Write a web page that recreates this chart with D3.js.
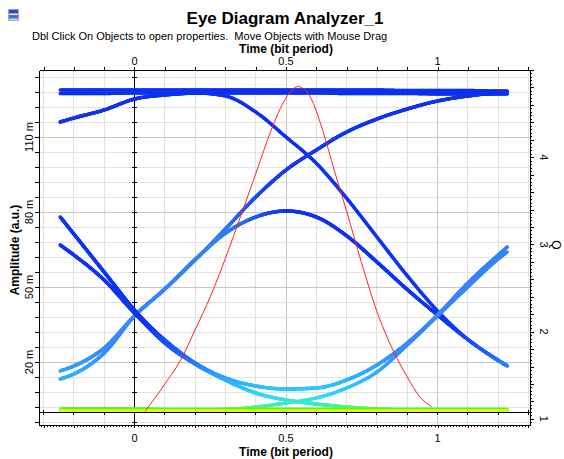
<!DOCTYPE html>
<html>
<head>
<meta charset="utf-8">
<script src="https://cdn.jsdelivr.net/npm/d3@7"></script>
<style>
  body { margin: 0; background: #fff; }
  svg { display: block; font-family: "Liberation Sans", Arial, sans-serif; }
</style>
</head>
<body>
<svg id="chart" width="564" height="459"></svg>
<script>
// ---- data -------------------------------------------------------------
// sampling instants of the eye traces (bit periods)
const sampleTimes = [-0.245, -0.2, -0.1, 0, 0.1, 0.2, 0.3, 0.4, 0.5, 0.6, 0.7, 0.8, 0.9, 1.0, 1.1, 1.2, 1.23];

// amplitude traces, milli a.u., one value per sampling instant
const highFlatA   = [128.8, 128.8, 128.8, 128.8, 128.8, 128.8, 128.8, 128.8, 128.8, 128.8, 128.8, 128.8, 128.6, 128.6, 128.6, 128.4, 128.4];
const highFlatB   = [127.4, 127.4, 127.4, 127.6, 127.6, 127.6, 127.6, 127.6, 127.6, 127.6, 127.4, 127.4, 127.4, 127.2, 127.2, 127.2, 127.2];
const tailHigh    = [116, 117.6, 120.8, 125.2, 126.8, 127.6, 128, 128, 128, 128, 128, 128, 128, 128, 128, 128, 128];
const tailFall    = [116, 117.6, 120.8, 125.2, 126.8, 127.6, 126.4, 120, 110, 99.5, 85.5, 70, 54.5, 40.4, 29, 20.8, 18.6];
const riseHighA   = [16.4, 18.4, 25.6, 38.4, 49.2, 60.8, 73.2, 86, 96.8, 104.8, 112, 117.2, 121.2, 124.4, 126.4, 127.6, 127.8];
const riseHighB   = [13.2, 15.2, 23.6, 38.4, 49.2, 60.8, 73.2, 86, 96.8, 104.8, 112, 117.2, 121.2, 124.4, 126.4, 127.6, 127.8];
const pulseA      = [13.2, 15.2, 23.6, 38.4, 49.2, 61, 71.5, 78, 80.4, 78, 70.5, 60, 49, 38.8, 29, 20.6, 18.4];
const pulseB      = [16.4, 18.4, 25.6, 38.4, 49.2, 61, 71.5, 78, 80.4, 78, 70.5, 60, 49, 38.8, 29, 20.6, 18.4];
const dipA        = [78, 71.2, 56, 40.8, 28.8, 19.6, 13.6, 10.4, 9.2, 9.6, 12.8, 18.8, 27.6, 38.8, 51.6, 62.8, 66];
const dipB        = [66.8, 62.8, 52.8, 39.6, 28.8, 19.6, 13.6, 10.4, 9.2, 9.6, 12.8, 18.8, 27.6, 38.8, 51.6, 62.8, 66];
const fallLowA    = [66.8, 62.8, 52.8, 39.6, 27.6, 19.2, 12.8, 7.6, 4.8, 3.2, 2, 1.2, 0.8, 0.8, 0.8, 0.8, 0.8];
const fallLowB    = [78, 71.2, 56, 40.8, 27.6, 19.2, 12.8, 7.6, 4.8, 3.2, 2, 1.2, 0.8, 0.8, 0.8, 0.8, 0.8];
const lowRise     = [0.8, 0.8, 0.8, 0.8, 0.8, 0.8, 1, 2, 3.6, 5.6, 9.6, 16, 26.8, 38.4, 50, 61.2, 64];
const lowFlatA    = [1.6, 1.6, 1.6, 1.6, 1.4, 1.4, 1.4, 1.4, 1.4, 1.4, 1.4, 1.4, 1.4, 1.4, 1.4, 1.4, 1.4];
const lowFlatB    = [0.6, 0.6, 0.6, 0.6, 0.6, 0.6, 0.6, 0.6, 0.6, 0.6, 0.6, 0.6, 0.6, 0.6, 0.6, 0.6, 0.6];

// Q factor against sampling time
const qTimes  = [0.035, 0.07, 0.1, 0.15, 0.2, 0.25, 0.3, 0.35, 0.4, 0.45, 0.5, 0.54, 0.58, 0.62, 0.66, 0.7, 0.75, 0.8, 0.85, 0.9, 0.94, 0.98];
const qValues = [1.09, 1.25, 1.40, 1.66, 2.02, 2.40, 2.84, 3.32, 3.81, 4.30, 4.68, 4.81, 4.69, 4.32, 3.84, 3.38, 2.78, 2.23, 1.81, 1.48, 1.26, 1.14];

// axis labels
const timeTickLabels = [0, 0.5, 1];
const ampTickLabels  = [20, 50, 80, 110];
const qTickLabels    = [1, 2, 3, 4];

// ---- layout -------------------------------------------------------------
const svg = d3.select("#chart");
const L = 39, R = 530, T = 70, B = 425;

const x = d3.scaleLinear().domain([-0.315, 1.305]).range([L, R]);
const y = d3.scaleLinear().domain([-5.2, 136.8]).range([B, T]);
const q = d3.scaleLinear().domain([0.93, 5.0]).range([B, T]);

const timeGrid = d3.range(-3, 14).map(i => i / 10);
const ampGrid  = d3.range(0, 24).map(k => -4 + 6 * k);

// grid
const grid = svg.append("g").attr("shape-rendering", "crispEdges");
grid.selectAll(".vg").data(timeGrid).join("line")
  .attr("x1", d => x(d)).attr("x2", d => x(d)).attr("y1", T).attr("y2", B)
  .attr("stroke", d => (Math.abs(d - 0.5) < 1e-6 || Math.abs(d - 1) < 1e-6) ? "#c6c6c6" : "#e2e2e2");
grid.selectAll(".hg").data(ampGrid).join("line")
  .attr("x1", L).attr("x2", R).attr("y1", d => y(d)).attr("y2", d => y(d))
  .attr("stroke", d => ampTickLabels.includes(d) ? "#c6c6c6" : "#e2e2e2");

// origin lines with their own ticks
const origin = svg.append("g").attr("shape-rendering", "crispEdges").attr("stroke", "#000");
origin.append("line").attr("x1", x(0)).attr("x2", x(0)).attr("y1", T).attr("y2", B);
origin.append("line").attr("x1", L).attr("x2", R).attr("y1", y(0)).attr("y2", y(0));
origin.selectAll(".ot").data(ampGrid.filter(d => d > -5)).join("line")
  .attr("x1", x(0) - 2).attr("x2", x(0) + 3).attr("y1", d => y(d)).attr("y2", d => y(d));
origin.selectAll(".oh").data(timeGrid).join("line")
  .attr("x1", d => x(d)).attr("x2", d => x(d)).attr("y1", y(0) - 2).attr("y2", y(0) + 3);

// ---- eye traces ---------------------------------------------------------
const fallPalette = d3.scaleLinear()
  .domain([0, 1.2, 3, 7, 14, 24, 34, 137])
  .range(["#e0ff00", "#5cff44", "#38f0b4", "#2cd6ff", "#2aa2ff", "#1c5cff", "#0f34f4", "#0c30f0"]);
const risePalette = d3.scaleLinear()
  .domain([0, 1.2, 3, 7, 14, 24, 70, 90, 137])
  .range(["#e0ff00", "#5cff44", "#38f0b4", "#2cd6ff", "#30b4ff", "#3a8aff", "#3380f8", "#163ef2", "#0c30f0"]);

const traceGroup = svg.append("g");
const lineGen = d3.line().curve(d3.curveMonotoneX);

function drawTrace(values, width) {
  const pts = sampleTimes.map((t, i) => [x(t), y(values[i])]);
  const tmp = svg.append("path").attr("d", lineGen(pts)).attr("fill", "none");
  const node = tmp.node();
  const len = node.getTotalLength();
  const n = Math.ceil(len / 2);
  let prev = node.getPointAtLength(0);
  for (let i = 1; i <= n; i++) {
    const p = node.getPointAtLength(len * i / n);
    const dx = Math.max(p.x - prev.x, 0.01);
    const slope = (p.y - prev.y) / dx;
    const k = Math.max(0, Math.min(1, -slope * 2));
    const v = y.invert((p.y + prev.y) / 2);
    const c = d3.interpolateRgb(fallPalette(v), risePalette(v))(k);
    traceGroup.append("line")
      .attr("x1", prev.x).attr("y1", prev.y).attr("x2", p.x).attr("y2", p.y)
      .attr("stroke", c).attr("stroke-width", width).attr("stroke-linecap", "round");
    prev = p;
  }
  tmp.remove();
}

[highFlatA, highFlatB, tailHigh, tailFall,
 riseHighA, riseHighB, pulseA, pulseB,
 dipA, dipB, fallLowA, fallLowB, lowRise].forEach(v => drawTrace(v, 3.4));

// zero-level traces
const flatLine = d3.line().x((d, i) => x(sampleTimes[i])).y(d => y(d));
traceGroup.append("path").attr("d", flatLine(lowFlatA)).attr("fill", "none")
  .attr("stroke", "#3cff3c").attr("stroke-width", 2);
traceGroup.append("path").attr("d", flatLine(lowFlatB)).attr("fill", "none")
  .attr("stroke", "#e6ff00").attr("stroke-width", 3);

// Q factor curve
svg.append("path")
  .attr("d", d3.line().curve(d3.curveMonotoneX)
    .x((d, i) => x(qTimes[i])).y(d => q(d))(qValues))
  .attr("fill", "none").attr("stroke", "#ff2222").attr("stroke-width", 1);

// ---- axes ---------------------------------------------------------------
const axes = svg.append("g").attr("shape-rendering", "crispEdges");
function styleAxis(g) {
  g.selectAll("path,line").attr("stroke", "#000");
  g.selectAll("text").remove();
}
axes.append("g").attr("transform", `translate(0,${T})`)
  .call(d3.axisTop(x).tickValues(timeGrid).tickSize(3).tickSizeOuter(0).tickFormat(""))
  .call(styleAxis);
axes.append("g").attr("transform", `translate(0,${B})`)
  .call(d3.axisBottom(x).tickValues(timeGrid).tickSize(3).tickSizeOuter(0).tickFormat(""))
  .call(styleAxis);
axes.append("g").attr("transform", `translate(0,${B})`)
  .call(d3.axisBottom(x).tickValues(d3.range(-31, 131).map(i => i / 100)).tickSize(2).tickSizeOuter(0).tickFormat(""))
  .call(styleAxis);
axes.append("g").attr("transform", `translate(${L},0)`)
  .call(d3.axisLeft(y).tickValues(ampGrid).tickSize(4).tickSizeOuter(0).tickFormat(""))
  .call(styleAxis);
axes.append("g").attr("transform", `translate(${R},0)`)
  .call(d3.axisRight(q).tickValues(d3.range(0, 21).map(i => 1 + i * 0.2)).tickSize(4).tickSizeOuter(0).tickFormat(""))
  .call(styleAxis);
axes.append("g").attr("transform", `translate(${R},0)`)
  .call(d3.axisRight(q).tickValues(d3.range(0, 102).map(i => 0.96 + i * 0.04)).tickSize(2).tickSizeOuter(0).tickFormat(""))
  .call(styleAxis);

// tick labels
const labels = svg.append("g").attr("fill", "#000").attr("font-size", 11);
labels.selectAll(".tt").data(timeTickLabels).join("text")
  .attr("x", d => x(d)).attr("y", 64.5).attr("text-anchor", "middle").text(d => d);
labels.selectAll(".bt").data(timeTickLabels).join("text")
  .attr("x", d => x(d)).attr("y", 442).attr("text-anchor", "middle").text(d => d);
labels.selectAll(".lt").data(ampTickLabels).join("text")
  .attr("transform", d => `translate(33,${y(d)}) rotate(-90)`)
  .attr("text-anchor", "middle").text(d => d + " m");
labels.selectAll(".rt").data(qTickLabels).join("text")
  .attr("transform", d => `translate(540,${q(d)}) rotate(90)`)
  .attr("text-anchor", "middle").text(d => d);

// titles
svg.append("text").attr("x", 285).attr("y", 24).attr("text-anchor", "middle")
  .attr("font-size", 17).attr("font-weight", "bold").text("Eye Diagram Analyzer_1");
svg.append("text").attr("x", 32).attr("y", 40).attr("font-size", 11)
  .attr("xml:space", "preserve").style("white-space", "pre")
  .text("Dbl Click On Objects to open properties.  Move Objects with Mouse Drag");
svg.append("text").attr("x", 286).attr("y", 53).attr("text-anchor", "middle")
  .attr("font-size", 12).attr("font-weight", "bold").text("Time (bit period)");
svg.append("text").attr("x", 286).attr("y", 456).attr("text-anchor", "middle")
  .attr("font-size", 12).attr("font-weight", "bold").text("Time (bit period)");
svg.append("text").attr("transform", "translate(19,250) rotate(-90)").attr("text-anchor", "middle")
  .attr("font-size", 12).attr("font-weight", "bold").text("Amplitude (a.u.)");
svg.append("text").attr("transform", "translate(552,245) rotate(90)").attr("text-anchor", "middle")
  .attr("font-size", 12).text("Q");

// window icon
const icon = svg.append("g").attr("shape-rendering", "crispEdges");
icon.append("rect").attr("x", 8).attr("y", 9).attr("width", 11).attr("height", 12).attr("fill", "#a8a8a8");
icon.append("rect").attr("x", 9).attr("y", 10).attr("width", 9).attr("height", 3).attr("fill", "#1d4fd8");
icon.append("rect").attr("x", 9).attr("y", 14).attr("width", 9).attr("height", 1).attr("fill", "#e8e8e8");
icon.append("rect").attr("x", 9).attr("y", 15).attr("width", 9).attr("height", 3).attr("fill", "#3a6ee6");
icon.append("rect").attr("x", 9).attr("y", 19).attr("width", 9).attr("height", 1).attr("fill", "#d0d0d0");
</script>
</body>
</html>
